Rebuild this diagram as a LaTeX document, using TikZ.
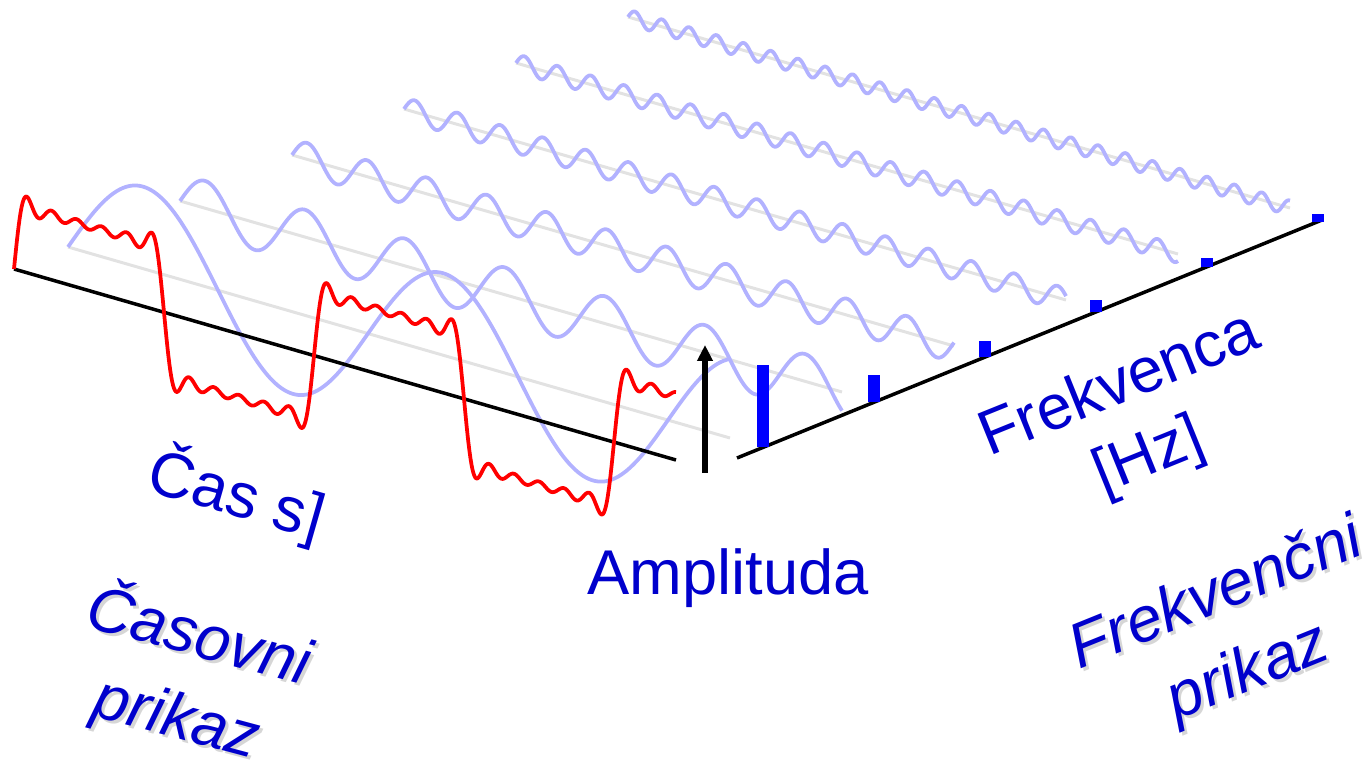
\documentclass[tikz,border=0pt]{standalone}
\usepackage{fontspec}
\setmainfont{Liberation Sans}
\usetikzlibrary{arrows.meta}
\definecolor{lblblue}{RGB}{0,0,204}
\definecolor{wavered}{RGB}{255,0,0}
\definecolor{harmblue}{RGB}{178,178,255}
\definecolor{barblue}{RGB}{0,0,255}
\definecolor{basegray}{RGB}{226,226,226}

\begin{document}
\begin{tikzpicture}[x=0.02cm, y=-0.02cm,
        axisline/.style={line width=0.07cm, black},
        zeroline/.style={line width=0.06cm, basegray},
        harmonic/.style={line width=0.075cm, harmblue, line join=round},
        sumwave/.style={line width=0.075cm, wavered, line join=round},
        specbar/.style={line width=0.25cm, barblue},
        amparrow/.style={line width=0.12cm, black, -{Triangle[length=0.32cm, width=0.3cm]}},
        lbl/.style={text=lblblue, inner sep=0pt, align=center, font=\fontsize{36}{46}\selectfont},
        lblit/.style={lbl, font=\fontsize{36}{48}\selectfont\itshape},
        txtshadow/.style={text=black!40, opacity=0.4}
      ]
      \useasboundingbox (0,0) rectangle (1367,763);

      % zero lines of the harmonics
      \foreach \i in {0,...,5}
        \draw[zeroline] (68+112*\i,247-46*\i) coordinate (h\i) -- ++(662,191);

      % harmonics 1,3,...,11
      \foreach \k [count=\i from 0] in {1,3,5,7,9,11}
        \draw[harmonic] plot[domain=0:662, samples=500]
          ({68+112*\i+\x},{247-46*\i+0.2885*\x-82/\k*sin(1.2*\k*\x)});

      % axes
      \coordinate (t0) at (14,269);
      \coordinate (t1) at (676,460);
      \coordinate (f0) at (737,458);
      \coordinate (f1) at (1322,220);
      \coordinate (a0) at (705,473);
      \coordinate (a1) at (705,345);
      \draw[axisline] (t0) -- (t1);
      \draw[axisline] (f0) -- (f1);
      \draw[amparrow] (a0) -- (a1);

      % spectrum
      \foreach \k [count=\i from 0] in {1,3,5,7,9,11}
        \draw[specbar] (763+111*\i,{458-0.4068*(26+111*\i)}) -- ++(0,{-82/\k});

      % sum of the harmonics
      \draw[sumwave] plot[domain=0:662, samples=700]
        ({14+\x},{269+0.2885*\x-82*(sin(1.2*\x)+sin(3.6*\x)/3+sin(6*\x)/5+sin(8.4*\x)/7+sin(10.8*\x)/9+sin(13.2*\x)/11)});

      % labels
      \node[lbl, anchor=base] (amp) at (728,595) {Amplituda};
      \node[lbl, anchor=base, rotate=-16] (cas) at (231,515) {Čas s]};
      \node[lbl, rotate=22, font=\fontsize{36}{44}\selectfont] (frek) at (1135,422) {Frekvenca\\{[Hz]}};

      \node[lblit, txtshadow, rotate=-15] (casprikazshadow) at (191,679) {Časovni\\prikaz};
      \node[lblit, rotate=-15] (casprikaz) at (188,676) {Časovni\\prikaz};
      \node[lblit, txtshadow, rotate=22] (frekprikazshadow) at (1236,638) {Frekvenčni\\prikaz};
      \node[lblit, rotate=22] (frekprikaz) at (1233,635) {Frekvenčni\\prikaz};
    \end{tikzpicture}
\end{document}
